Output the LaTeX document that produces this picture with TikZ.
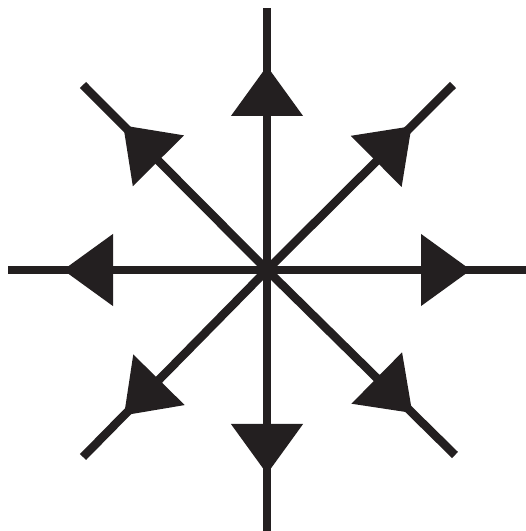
\documentclass[tikz,border=0pt]{standalone}
\usetikzlibrary{arrows.meta,decorations.markings}
\definecolor{raiopreto}{HTML}{231F20}
\tikzset{
  raio/.style={draw=raiopreto, line width=0.85mm, line cap=butt,
               postaction={decorate},
               decoration={markings,
                 mark=at position 20.4mm with {\arrow{Triangle[length=5mm, width=7mm]}}}},
}
\begin{document}
\begin{tikzpicture}[x=0.1mm, y=0.1mm]
  \useasboundingbox (-267,-261) rectangle (259,270);
  \coordinate (o) at (0,0);
  \coordinate (n) at (0,262);
  \coordinate (s) at (0,-261);
  \coordinate (l) at (259,0);
  \coordinate (w) at (-259,0);
  \coordinate (nl) at (186,185);
  \coordinate (no) at (-184,185);
  \coordinate (so) at (-184,-187);
  \coordinate (sl) at (188,-185);
  \draw[raio] (o) -- (n);
  \draw[raio] (o) -- (s);
  \draw[raio] (o) -- (l);
  \draw[raio] (o) -- (w);
  \draw[raio] (o) -- (nl);
  \draw[raio] (o) -- (no);
  \draw[raio] (o) -- (so);
  \draw[raio] (o) -- (sl);
\end{tikzpicture}
\end{document}
